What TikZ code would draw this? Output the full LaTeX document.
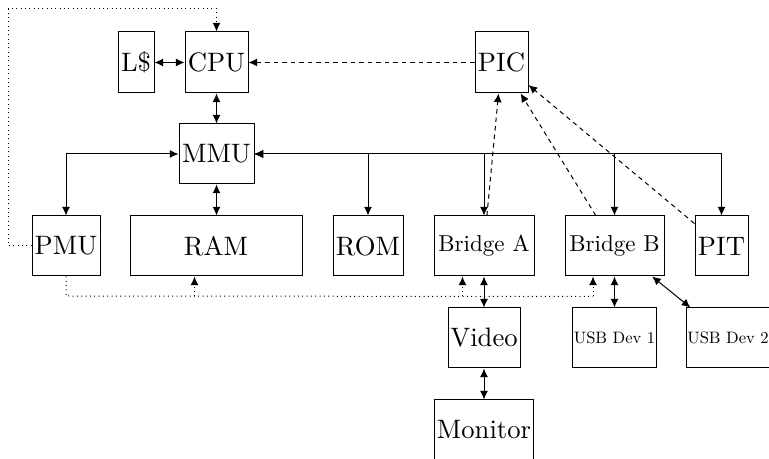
\documentclass[tikz,border=0pt]{standalone}
\usepackage{fontspec}
\setmainfont{lmroman10-regular.otf}
\usetikzlibrary{arrows.meta,calc}
\begin{document}
\begin{tikzpicture}[x=0.75pt,y=-0.75pt,line width=0.75pt,
  >={Latex[length=6.5pt,width=6pt]},
  blk/.style 2 args={draw,inner sep=0pt,minimum width=#1*0.75pt,minimum height=#2*0.75pt,font=\fontsize{20}{24}\selectfont},
  mid/.style={font=\fontsize{17.28}{20}\selectfont},
  sml/.style={font=\fontsize{12.4}{15}\selectfont},
  dots/.style={dash pattern=on 0.75pt off 2.5pt},
  dsh/.style={dash pattern=on 3.4pt off 3pt}]
\useasboundingbox (0,0) rectangle (769,459);
\node[blk={36}{61}] (L) at (136,62.5) {L\$};
\node[blk={63}{61}] (CPU) at (216.5,62.5) {CPU};
\node[blk={53}{61}] (PIC) at (501.5,62.5) {PIC};
\node[blk={75}{60}] (MMU) at (216.5,154) {MMU};
\node[blk={68}{60}] (PMU) at (66,246) {PMU};
\node[blk={172}{60}] (RAM) at (216,246) {RAM};
\node[blk={70}{60}] (ROM) at (368,246) {ROM};
\node[blk={100}{60},mid] (BA) at (484,246) {Bridge A};
\node[blk={99}{60},mid] (BB) at (614.5,246) {Bridge B};
\node[blk={53}{60}] (PIT) at (721.5,246) {PIT};
\node[blk={72}{60}] (Video) at (484,338) {Video};
\node[blk={84}{60},sml] (U1) at (614.5,338) {USB Dev 1};
\node[blk={84}{60},sml] (U2) at (728,338) {USB Dev 2};
\node[blk={99}{60}] (Mon) at (484,430) {Monitor};
% solid links
\draw[<->] (L) -- (CPU);
\draw[<->] (CPU) -- (MMU);
\draw[<->] (MMU) -| (PMU);
\draw[<->] (MMU.south) -- (MMU.south |- RAM.north);
\draw[<->] (MMU) -| (ROM);
\draw[<->] (MMU) -| (BA);
\draw[<->] (MMU) -| (BB);
\draw[<->] (MMU) -| (PIT);
\draw[<->] (BA) -- (Video);
\draw[<->] (Video) -- (Mon);
\draw[<->] (BB) -- (U1);
\draw[<->] (BB) -- (U2);
% dashed interrupts
\draw[dsh,->] (PIC) -- (CPU);
\draw[dsh,->] (BA) -- (PIC);
\draw[dsh,->] (BB) -- (PIC);
\draw[dsh,->] (PIT) -- (PIC);
% dotted power lines
\coordinate (tl) at (8,9);
\coordinate (bl) at (66,296);
\draw[dots,->] (PMU.west) -| (tl) -| (CPU.north);
\draw[dots] (PMU.south) -- (bl) -- ($(BB.south)+(-21.5,20)$);
\draw[dots,->] ($(RAM.south)+(-21.5,20)$) -- ($(RAM.south)+(-21.5,0)$);
\draw[dots,->] ($(BA.south)+(-21.5,20)$) -- ($(BA.south)+(-21.5,0)$);
\draw[dots,->] ($(BB.south)+(-21.5,20)$) -- ($(BB.south)+(-21.5,0)$);
\end{tikzpicture}
\end{document}
